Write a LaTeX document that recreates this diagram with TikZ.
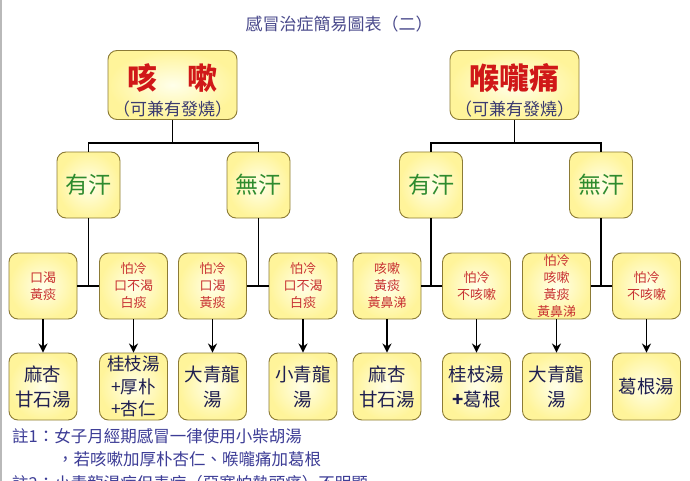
\documentclass[tikz,border=0pt]{standalone}
\usepackage{fontspec}
\setmainfont{Noto Sans CJK TC}
\usetikzlibrary{arrows.meta}
\definecolor{boxborder}{HTML}{8C7B36}
\definecolor{boxin}{HTML}{FFFFEA}
\definecolor{boxout}{HTML}{FFF49A}
\definecolor{titleblue}{HTML}{4A4A8C}
\definecolor{symred}{HTML}{C83232}
\definecolor{topred}{HTML}{D01818}
\definecolor{sweatgreen}{HTML}{2E8B2E}
\definecolor{rxnavy}{HTML}{1E1E50}
\definecolor{noteblue}{HTML}{3C3C96}
\begin{document}
\begin{tikzpicture}[x=1pt,y=-1pt,
  box/.style={draw=boxborder, line width=0.9pt, rounded corners=9pt, inner color=boxin, outer color=boxout, inner sep=0pt, align=center},
  topbox/.style={box, minimum width=129pt, minimum height=69pt},
  toptext/.style={inner sep=0pt, text=topred, font=\fontsize{30}{32}\selectfont\bfseries},
  subtext/.style={inner sep=0pt, text=titleblue!80!black, font=\fontsize{17}{19}\selectfont},
  sweatbox/.style={box, minimum width=63pt, minimum height=66pt, font=\fontsize{23}{26}\selectfont, text=sweatgreen},
  symbox/.style={box, minimum width=68pt, minimum height=66pt, font=\fontsize{13}{17}\selectfont, text=symred},
  rxbox/.style={box, minimum width=68pt, minimum height=67pt, font=\fontsize{18.5}{25}\selectfont, text=rxnavy},
  link/.style={draw=black, line width=1.6pt},
  arr/.style={link, -{Stealth[length=9pt,width=9pt]}},
  note/.style={anchor=west, inner sep=0pt, text=noteblue, font=\fontsize{16.5}{20}\selectfont}
]
\useasboundingbox (0,0) rectangle (690,481);
\clip (0,0) rectangle (690,481);
\fill[white] (0,0) rectangle (690,481);
\draw[gray!55, line width=1.5pt] (1,0) -- (1,481);

\node[text=titleblue, font=\fontsize{17}{20}\selectfont] (title) at (339,24) {感冒治症簡易圖表（二）};

% top boxes
\node[topbox] (t1) at (172.5,85) {};
\node[toptext] (t1a) at (172.5,78) {咳　嗽};
\node[subtext] (t1b) at (172.5,109) {（可兼有發燒）};
\node[topbox] (t2) at (514.5,85) {};
\node[toptext] (t2a) at (514.5,78) {喉嚨痛};
\node[subtext] (t2b) at (514.5,109) {（可兼有發燒）};

% level 2
\node[sweatbox] (y1) at (88.5,185) {有汗};
\node[sweatbox] (w1) at (258.5,185) {無汗};
\node[sweatbox] (y2) at (431,185) {有汗};
\node[sweatbox] (w2) at (601,185) {無汗};

% level 3
\node[symbox] (b1) at (43,286) {口渴\\黃痰};
\node[symbox] (b2) at (133.5,286) {怕冷\\口不渴\\白痰};
\node[symbox] (b3) at (212.5,286) {怕冷\\口渴\\黃痰};
\node[symbox] (b4) at (303,286) {怕冷\\口不渴\\白痰};
\node[symbox] (b5) at (387,286) {咳嗽\\黃痰\\黃鼻涕};
\node[symbox] (b6) at (476.5,286) {怕冷\\不咳嗽};
\node[symbox] (b7) at (556.5,286) {怕冷\\咳嗽\\黃痰\\黃鼻涕};
\node[symbox] (b8) at (646.5,286) {怕冷\\不咳嗽};

% level 4
\node[rxbox] (c1) at (43,386.5) {麻杏\\甘石湯};
\node[rxbox, font=\fontsize{17.5}{22.5}\selectfont] (c2) at (133.5,386.5) {桂枝湯\\+厚朴\\+杏仁};
\node[rxbox] (c3) at (212.5,386.5) {大青龍\\湯};
\node[rxbox] (c4) at (303,386.5) {小青龍\\湯};
\node[rxbox] (c5) at (387,386.5) {麻杏\\甘石湯};
\node[rxbox] (c6) at (476.5,386.5) {桂枝湯\\{\bfseries+}葛根};
\node[rxbox] (c7) at (556.5,386.5) {大青龍\\湯};
\node[rxbox] (c8) at (646.5,386.5) {葛根湯};

% connectors top -> level 2
\coordinate (j1) at (172.5,143);
\coordinate (j2) at (514.5,143);
\draw[link] (t1.south) -- (j1);
\draw[link] (j1) -| (y1.north);
\draw[link] (j1) -| (w1.north);
\draw[link] (t2.south) -- (j2);
\draw[link] (j2) -| (y2.north);
\draw[link] (j2) -| (w2.north);

% level 2 -> level 3
\draw[link] (y1.south) -- (y1.south |- b1.east);
\draw[link] (b1.east) -- (b2.west);
\draw[link] (w1.south) -- (w1.south |- b3.east);
\draw[link] (b3.east) -- (b4.west);
\draw[link] (y2.south) -- (y2.south |- b5.east);
\draw[link] (b5.east) -- (b6.west);
\draw[link] (w2.south) -- (w2.south |- b7.east);
\draw[link] (b7.east) -- (b8.west);

% level 3 -> level 4
\foreach \i in {1,...,8} { \draw[arr] (b\i.south) -- (c\i.north); }

% notes
\node[note] (n1) at (12,436) {註1：女子月經期感冒一律使用小柴胡湯};
\node[note] (n2) at (57,459) {，若咳嗽加厚朴杏仁、喉嚨痛加葛根};
\node[note] (n3) at (12,483) {註2：小青龍湯症但表症（惡寒怕熱頭痛）不明顯};
\end{tikzpicture}
\end{document}
